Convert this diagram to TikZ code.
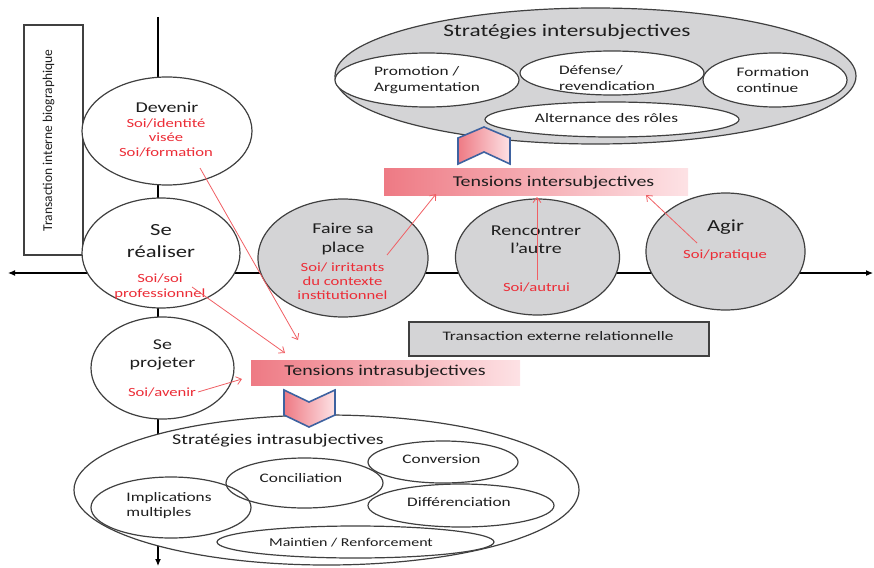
\documentclass[tikz,border=0pt]{standalone}
\usepackage{fontspec}
\setmainfont{Carlito}[FakeStretch=1.33]
\newfontfamily\plainfont{Carlito}
\usetikzlibrary{shapes.geometric,arrows.meta}
\definecolor{ink}{RGB}{30,30,30}
\definecolor{edge}{RGB}{64,64,64}
\definecolor{softgray}{RGB}{212,212,214}
\definecolor{redtxt}{RGB}{236,45,55}
\definecolor{redline}{RGB}{240,95,100}
\definecolor{pinkdark}{RGB}{238,122,132}
\definecolor{pinklight}{RGB}{253,226,229}
\definecolor{chevblue}{RGB}{62,98,160}
\tikzset{
  oval/.style={ellipse, draw=edge, line width=1.2pt, inner sep=0pt},
  grayoval/.style={oval, fill=softgray},
  whiteoval/.style={oval, fill=white},
  lab/.style={text=ink, inner sep=0pt, align=center, font=\fontsize{15}{18}\selectfont},
  biglab/.style={text=ink, inner sep=0pt, align=center, font=\fontsize{17}{22}\selectfont},
  redlab/.style={text=redtxt, inner sep=0pt, align=center, font=\fontsize{12.5}{14.5}\selectfont},
  smalllab/.style={text=ink, inner sep=0pt, align=left, font=\fontsize{13}{16}\selectfont},
  tensionbar/.style={left color=pinkdark, right color=pinklight, draw=none, inner sep=0pt},
  chev/.style={draw=chevblue, line width=1.6pt, line join=miter, left color=pinkdark, right color=pinklight},
  redarrow/.style={draw=redline, line width=0.8pt, -{Straight Barb[length=5pt,width=8pt]}},
  axisline/.style={draw=black, line width=1.1pt},
  framebox/.style={draw=edge, line width=1.3pt, inner sep=0pt}
}
\begin{document}
\begin{tikzpicture}[x=1pt,y=-1pt]
\useasboundingbox (0,0) rectangle (874,567);

% axes
\coordinate (axL) at (8,273);
\coordinate (axR) at (873,273);
\coordinate (axT) at (158,17);
\coordinate (axB) at (158,566);
\draw[axisline, {Latex[length=7pt,width=6pt]}-{Latex[length=7pt,width=6pt]}] (axL) -- (axR);
\draw[axisline, -{Latex[length=7pt,width=6pt]}] (axT) -- (axB);

% biographic box
\node[framebox, fill=white, minimum width=59pt, minimum height=230pt] (biobox) at (53.5,140) {};
\node[rotate=90, text=ink, inner sep=0pt, font=\plainfont\fontsize{13.5}{15}\selectfont] (biotext) at (48.5,140.5) {Transaction interne biographique};

% left column ellipses
\node[whiteoval, minimum width=170pt, minimum height=108pt] (devenir) at (167,131) {};
\node[lab] (devT) at (167,107) {Devenir};
\node[redlab] (devR) at (166,137.5) {Soi/identité\\visée\\Soi/formation};

\node[whiteoval, minimum width=158pt, minimum height=110pt] (realiser) at (161,253) {};
\node[biglab] (realT) at (161,241) {Se\\réaliser};
\node[redlab, font=\fontsize{12.5}{15}\selectfont] (realR) at (160,286.5) {Soi/soi\\professionnel};

\node[whiteoval, minimum width=143pt, minimum height=102pt] (projeter) at (162.5,368) {};
\node[lab] (projT) at (162.5,355) {Se\\projeter};
\node[redlab] (projR) at (162,392) {Soi/avenir};

% grey ellipses on the horizontal axis
\node[grayoval, minimum width=170pt, minimum height=118pt] (faire) at (343,258) {};
\node[lab, font=\fontsize{15}{19}\selectfont] (faireT) at (343,239.5) {Faire sa\\place};
\node[redlab, font=\fontsize{12.5}{14}\selectfont] (faireR) at (342.5,281) {Soi/ irritants\\du contexte\\institutionnel};

\node[grayoval, minimum width=164pt, minimum height=116pt] (rencontrer) at (537.5,257) {};
\node[lab] (rencT) at (536,240) {Rencontrer\\l’autre};
\node[redlab] (rencR) at (536.5,287) {Soi/autrui};

\node[grayoval, minimum width=159pt, minimum height=117pt] (agir) at (725.5,251.5) {};
\node[biglab] (agirT) at (725.5,227) {Agir};
\node[redlab] (agirR) at (725,255) {Soi/pratique};

% external box
\node[framebox, fill=softgray, minimum width=300pt, minimum height=34pt] (extbox) at (559,339) {};
\node[smalllab] (extT) at (558,336) {Transaction externe relationnelle};

% intersubjective strategies
\node[grayoval, minimum width=521pt, minimum height=136pt] (interbig) at (595.5,76) {};
\node[biglab, font=\fontsize{17.5}{21}\selectfont] (interT) at (567,32) {Stratégies intersubjectives};
\node[whiteoval, minimum width=184pt, minimum height=54pt] (promotion) at (427,80) {};
\node[smalllab] (promT) at (427,80) {Promotion /\\Argumentation};
\node[whiteoval, minimum width=184pt, minimum height=44pt] (defense) at (612,73) {};
\node[smalllab] (defT) at (607,78) {Défense/\\revendication};
\node[whiteoval, minimum width=144pt, minimum height=54pt] (formation) at (775,80) {};
\node[smalllab] (formT) at (773,80) {Formation\\continue};
\node[whiteoval, minimum width=254pt, minimum height=35pt] (alternance) at (612,119.5) {};
\node[smalllab] (altT) at (606.5,118) {Alternance des rôles};

% tension bars
\node[tensionbar, minimum width=304pt, minimum height=27pt] (interbar) at (536,181.5) {};
\node[lab] (interbarT) at (553.5,183) {Tensions intersubjectives};
\node[tensionbar, minimum width=269pt, minimum height=25pt] (intrabar) at (385.5,372.5) {};
\node[lab] (intrabarT) at (385,372) {Tensions intrasubjectives};

% intrasubjective strategies
\node[whiteoval, minimum width=505pt, minimum height=150pt] (intrabig) at (326.5,490) {};
\node[lab] (intraT) at (278,441) {Stratégies intrasubjectives};
\node[oval, minimum width=157pt, minimum height=50pt] (conciliation) at (304.5,483) {};
\node[smalllab] (concT) at (301,478) {Conciliation};
\node[oval, minimum width=160pt, minimum height=61pt] (implications) at (171,507.5) {};
\node[smalllab, font=\fontsize{13}{15}\selectfont] (implT) at (169,505.5) {Implications\\multiples};
\node[oval, minimum width=150pt, minimum height=42pt] (conversion) at (443,462) {};
\node[smalllab] (convT) at (441.5,459) {Conversion};
\node[oval, minimum width=186pt, minimum height=43pt] (differenciation) at (461,505.5) {};
\node[smalllab] (diffT) at (459,502) {Différenciation};
\node[oval, minimum width=277pt, minimum height=32pt] (maintien) at (355.5,542) {};
\node[smalllab, font=\fontsize{12}{14}\selectfont] (mainT) at (351,543) {Maintien / Renforcement};

% chevrons (on top)
\draw[chev] (458,164) -- (458,138) -- (484,127) -- (510,138) -- (510,164) -- (484,152) -- cycle;
\draw[chev] (284,390) -- (309,402) -- (335,390) -- (335,415) -- (309,427) -- (284,415) -- cycle;

% red arrows
\coordinate (a1s) at (200,168); \coordinate (a1e) at (298,340);
\coordinate (a2s) at (192,287); \coordinate (a2e) at (285,353);
\coordinate (a3s) at (198,392); \coordinate (a3e) at (242,379);
\coordinate (a4s) at (387,255); \coordinate (a4e) at (436,194);
\coordinate (a5s) at (537,280); \coordinate (a5e) at (537,197);
\coordinate (a6s) at (697,243); \coordinate (a6e) at (646,195);
\draw[redarrow] (a1s) -- (a1e);
\draw[redarrow] (a2s) -- (a2e);
\draw[redarrow] (a3s) -- (a3e);
\draw[redarrow] (a4s) -- (a4e);
\draw[redarrow] (a5s) -- (a5e);
\draw[redarrow] (a6s) -- (a6e);
\end{tikzpicture}
\end{document}
